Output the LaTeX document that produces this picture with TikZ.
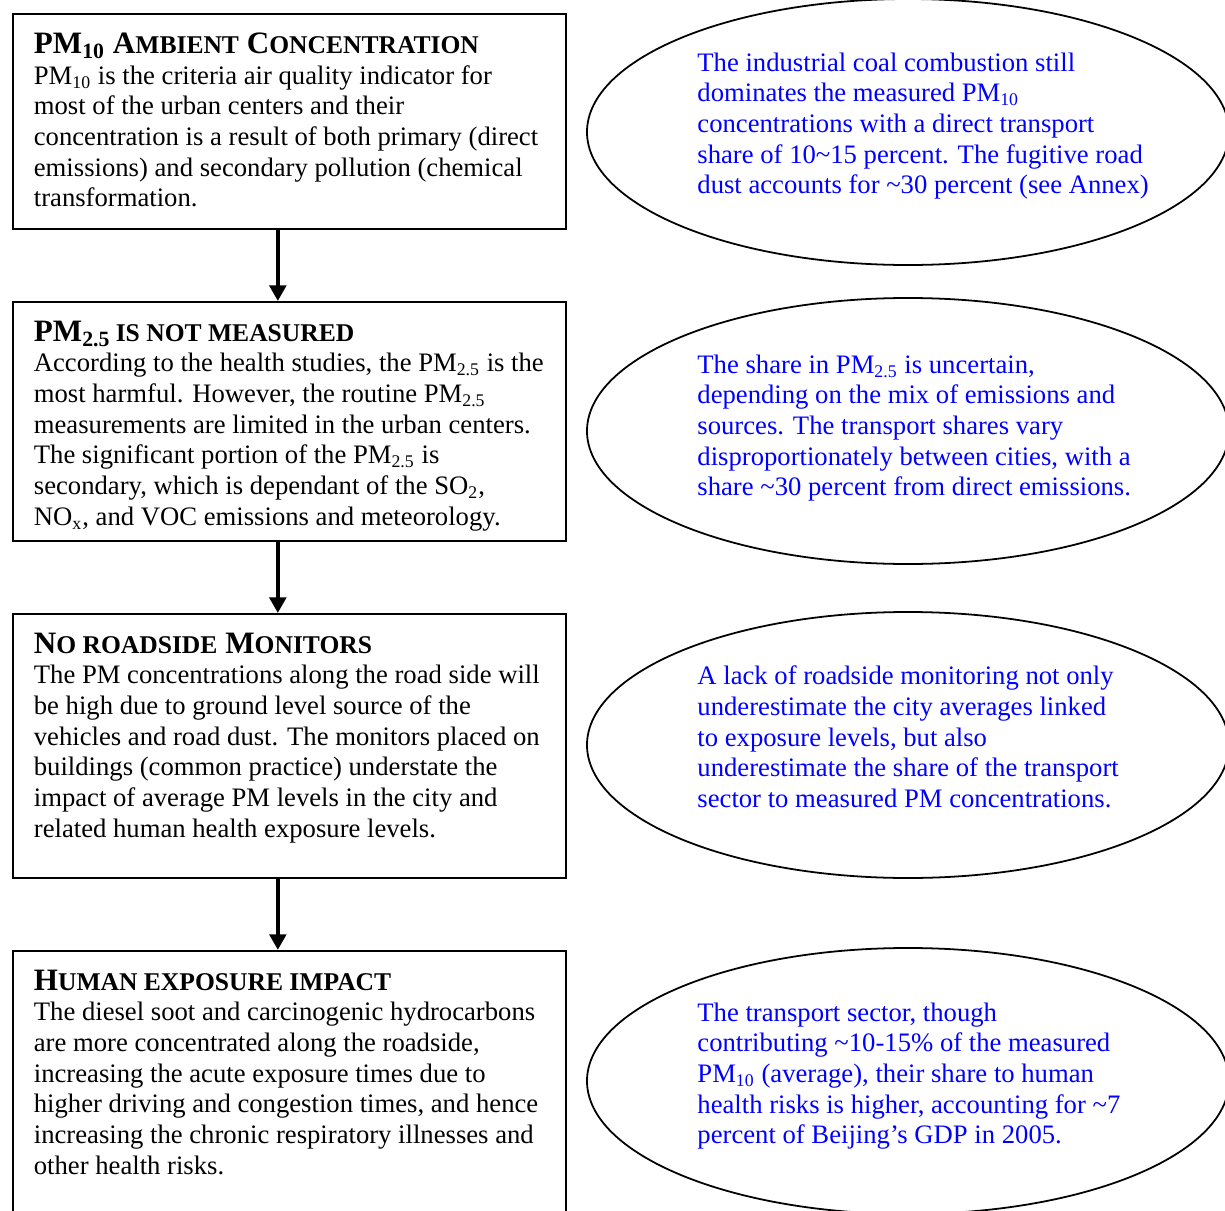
\documentclass[tikz,border=0pt]{standalone}
\usepackage{fontspec}
\setmainfont{Liberation Serif}
\usetikzlibrary{positioning,shapes.geometric,arrows.meta}

\newcommand{\headfont}{\fontsize{14}{16}\selectfont\bfseries}
\newcommand{\bodyfont}{\fontsize{12}{13.8}\selectfont\mdseries}
\newcommand{\lowcap}[1]{{\fontsize{11.5}{13}\selectfont #1}}
\newcommand{\paneltext}[3]{\parbox[t][#1][t]{229.95pt}{\raggedright{\headfont #2\par}\bodyfont #3}}

\begin{document}
\begin{tikzpicture}[
                            x=0.45pt, y=-0.45pt,
                            node distance=32.1pt,
                            >={Triangle[length=7pt,width=7.4pt]},
                            panel/.style={rectangle, draw, line width=0.8pt, inner xsep=9.45pt, inner ysep=8.55pt},
                            note/.style={ellipse, draw, line width=0.8pt, minimum width=288.9pt, minimum height=119.7pt, inner sep=0pt},
                            notetext/.style={anchor=west, align=left, inner sep=0pt, text=blue, font=\bodyfont},
                            flow/.style={->, line width=1.7pt}
                        ]
                        \useasboundingbox (0,0) rectangle (1225,1211);
                        \clip (0,0) rectangle (1225,1211);

                        % Blocks
                        \node [panel, anchor=north west] (amb) at (12,13) {\paneltext{79.6pt}{PM\textsubscript{10} A\lowcap{MBIENT} C\lowcap{ONCENTRATION}}{PM\textsubscript{10} is the criteria air quality indicator for\\ most of the urban centers and their\\ concentration is a result of both primary (direct\\ emissions) and secondary pollution (chemical\\ transformation.}};
                        \node [panel, below=of amb] (pmt) {\paneltext{90.4pt}{PM\textsubscript{2.5}\,\lowcap{IS NOT MEASURED}}{According to the health studies, the PM\textsubscript{2.5} is the\\ most harmful. However, the routine PM\textsubscript{2.5}\\ measurements are limited in the urban centers.\\ The significant portion of the PM\textsubscript{2.5} is\\ secondary, which is dependant of the SO\textsubscript{2},\\ NO\textsubscript{x}, and VOC emissions and meteorology.}};
                        \node [panel, below=of pmt] (road) {\paneltext{101.6pt}{N\lowcap{O ROADSIDE} M\lowcap{ONITORS}}{The PM concentrations along the road side will\\ be high due to ground level source of the\\ vehicles and road dust. The monitors placed on\\ buildings (common practice) understate the\\ impact of average PM levels in the city and\\ related human health exposure levels.}};
                        \node [panel, below=of road] (human) {\paneltext{108.9pt}{H\lowcap{UMAN EXPOSURE IMPACT}}{The diesel soot and carcinogenic hydrocarbons\\ are more concentrated along the roadside,\\ increasing the acute exposure times due to\\ higher driving and congestion times, and hence\\ increasing the chronic respiratory illnesses and\\ other health risks.}};

                        % Notes
                        \node [note] (ambnote) at (908,132) {};
                        \node [note] (pmtnote) at (908,431) {};
                        \node [note] (roadnote) at (908,745) {};
                        \node [note] (humannote) at (908,1081) {};
                        \node [notetext] (ambtxt) at ([shift={(-211,-6)}]ambnote.center) {The industrial coal combustion still\\ dominates the measured PM\textsubscript{10}\\ concentrations with a direct transport\\ share of 10\textasciitilde15 percent. The fugitive road\\ dust accounts for \textasciitilde30 percent (see Annex)};
                        \node [notetext] (pmttxt) at ([shift={(-211,-3)}]pmtnote.center) {The share in PM\textsubscript{2.5} is uncertain,\\ depending on the mix of emissions and\\ sources. The transport shares vary\\ disproportionately between cities, with a\\ share \textasciitilde30 percent from direct emissions.};
                        \node [notetext] (roadtxt) at ([shift={(-211,-8)}]roadnote.center) {A lack of roadside monitoring not only\\ underestimate the city averages linked\\ to exposure levels, but also\\ underestimate the share of the transport\\ sector to measured PM concentrations.};
                        \node [notetext] (humantxt) at ([shift={(-211,-5)}]humannote.center) {The transport sector, though\\ contributing \textasciitilde10-15\% of the measured\\ PM\textsubscript{10} (average), their share to human\\ health risks is higher, accounting for \textasciitilde7\\ percent of Beijing’s GDP in 2005.};

                        % Connections
                        \draw [flow] ([xshift=-5.2pt]amb.south) -- ([xshift=-5.2pt]pmt.north);
                        \draw [flow] ([xshift=-5.2pt]pmt.south) -- ([xshift=-5.2pt]road.north);
                        \draw [flow] ([xshift=-5.2pt]road.south) -- ([xshift=-5.2pt]human.north);
                    \end{tikzpicture}
\end{document}
